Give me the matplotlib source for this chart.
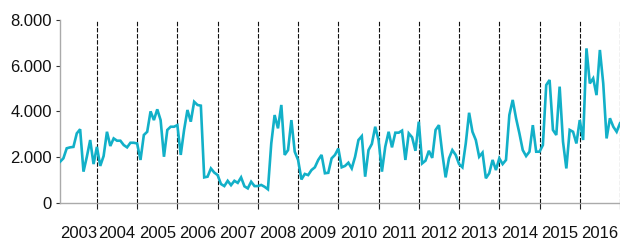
import matplotlib
matplotlib.use("Agg")
import matplotlib.pyplot as plt
from matplotlib.ticker import FuncFormatter, FixedLocator

years = list(range(2003, 2017))

# monthly values, one row per year
values = [
    1800, 1950, 2390, 2430, 2450, 3040, 3220, 1370, 2020, 2750, 1700, 2450,
    1620, 2050, 3110, 2490, 2820, 2720, 2720, 2530, 2430, 2630, 2630, 2600,
    1880, 2970, 3110, 4000, 3620, 4090, 3620, 2020, 3190, 3330, 3330, 3400,
    2100, 3190, 4060, 3550, 4420, 4280, 4250, 1120, 1150, 1510, 1330, 1220,
    830, 740, 970, 780, 970, 880, 1120, 730, 640, 930, 740, 740,
    790, 710, 600, 2600, 3840, 3260, 4280, 2100, 2310, 3620, 2240, 1880,
    1030, 1270, 1220, 1440, 1560, 1880, 2100, 1300, 1320, 1950, 2100, 2380,
    1560, 1620, 1760, 1510, 2020, 2750, 2920, 1150, 2310, 2580, 3330, 2750,
    1370, 2460, 3110, 2430, 3070, 3070, 3160, 1880, 3040, 2870, 2280, 3550,
    1730, 1850, 2280, 1970, 3190, 3400, 2170, 1120, 1950, 2310, 2100, 1700,
    1560, 2600, 3940, 3110, 2750, 2020, 2200, 1080, 1300, 1880, 1440, 1950,
    1700, 1880, 3840, 4500, 3700, 3040, 2310, 2050, 2240, 3400, 2240, 2240,
    2530, 5150, 5370, 3190, 2970, 5080, 2680, 1510, 3190, 3110, 2600, 3620,
    2750, 6750, 5220, 5440, 4710, 6680, 5220, 2820, 3700, 3330, 3110, 3480,
]

yticks = [0, 2000, 4000, 6000, 8000]

plt.rcParams['font.family'] = ['Liberation Sans', 'DejaVu Sans']

fig = plt.figure(figsize=(6.2, 2.42), dpi=100)
ax = fig.add_axes([0.0968, 0.161, 0.9032, 0.7575])

x = list(range(len(values)))
ax.plot(x, values, color='#12b0c8', lw=1.9, solid_joinstyle='miter', zorder=3)

# year separators
bounds = [12 * k + 11 for k in range(len(years))]
for b in bounds:
    ax.axvline(b, color='#111111', lw=0.8, ls=(0, (4, 1.5)), zorder=2, clip_on=False)

ax.set_xlim(0, len(values) - 1)
ax.set_ylim(0, 8000)

ax.set_yticks(yticks)
ax.yaxis.set_major_formatter(FuncFormatter(lambda v, p: f"{v:,.0f}".replace(',', '.')))

centers = [5.5] + [b + 6 for b in bounds[:-1]]
ax.xaxis.set_major_locator(FixedLocator(bounds))
ax.xaxis.set_minor_locator(FixedLocator(centers))
ax.set_xticklabels([])
ax.set_xticklabels([str(y) for y in years], minor=True)

ax.tick_params(axis='x', which='major', length=4, width=0.8, color='#222222', direction='out')
ax.tick_params(axis='x', which='minor', length=0, pad=16.5, labelsize=12, labelcolor='#111111')
ax.tick_params(axis='y', length=3, width=0.8, color='#333333', pad=3, labelsize=12, labelcolor='#111111')

for s in ['top', 'right']:
    ax.spines[s].set_visible(False)
for s in ['left', 'bottom']:
    ax.spines[s].set_color('#aaaaaa')
    ax.spines[s].set_linewidth(1.0)

fig.savefig("out.png", dpi=100)
